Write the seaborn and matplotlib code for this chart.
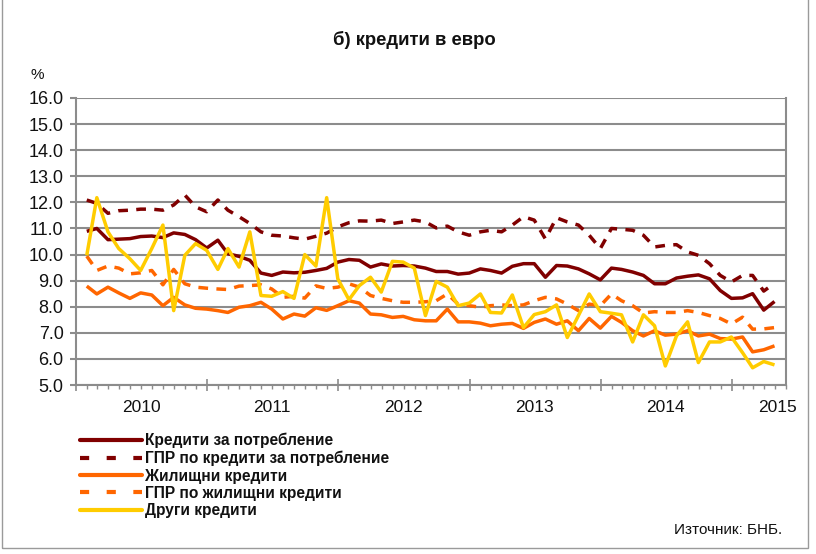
import pandas as pd
import matplotlib
matplotlib.use('Agg')
import matplotlib.pyplot as plt
import matplotlib.dates as mdates
from matplotlib.lines import Line2D
from matplotlib.ticker import FormatStrFormatter, NullFormatter
import seaborn as sns

# --- data (monthly, Jan 2010 - Apr 2015), % ---
months = pd.date_range('2010-01-31', periods=64, freq='ME')

cons = [10.89, 11.00, 10.57, 10.59, 10.61, 10.69, 10.71, 10.65, 10.83, 10.77, 10.57, 10.25,
        10.55, 10.03, 9.93, 9.78, 9.29, 9.20, 9.33, 9.30, 9.32, 9.39, 9.47, 9.71,
        9.81, 9.78, 9.52, 9.64, 9.56, 9.58, 9.56, 9.48, 9.35, 9.35, 9.25, 9.29,
        9.45, 9.39, 9.29, 9.55, 9.65, 9.65, 9.13, 9.58, 9.56, 9.45, 9.26, 9.03,
        9.48, 9.43, 9.33, 9.20, 8.88, 8.88, 9.10, 9.17, 9.22, 9.07, 8.62, 8.32,
        8.34, 8.50, 7.87, 8.20]

cons_apr = [12.09, 11.96, 11.58, 11.68, 11.70, 11.74, 11.74, 11.70, 11.90, 12.28, 11.83, 11.64,
            12.09, 11.70, 11.45, 11.19, 10.87, 10.74, 10.71, 10.64, 10.59, 10.70, 10.82, 11.06,
            11.22, 11.29, 11.28, 11.32, 11.19, 11.25, 11.32, 11.25, 11.02, 11.09, 10.87, 10.74,
            10.87, 10.93, 10.87, 11.13, 11.45, 11.32, 10.60, 11.41, 11.25, 11.13, 10.74, 10.23,
            11.00, 10.97, 10.93, 10.74, 10.29, 10.35, 10.38, 10.10, 9.97, 9.65, 9.20, 8.95,
            9.20, 9.20, 8.60, 8.90]

house = [8.79, 8.49, 8.75, 8.53, 8.32, 8.53, 8.45, 8.04, 8.36, 8.07, 7.94, 7.91,
         7.85, 7.78, 7.98, 8.04, 8.17, 7.91, 7.53, 7.72, 7.64, 7.96, 7.86, 8.04,
         8.23, 8.14, 7.72, 7.69, 7.59, 7.63, 7.50, 7.46, 7.46, 7.91, 7.42, 7.42,
         7.37, 7.27, 7.33, 7.36, 7.17, 7.40, 7.53, 7.33, 7.46, 7.08, 7.55, 7.18,
         7.63, 7.40, 7.08, 6.88, 7.08, 6.91, 6.95, 7.08, 6.88, 6.95, 6.78, 6.76,
         6.84, 6.27, 6.35, 6.50]

house_apr = [9.94, 9.39, 9.56, 9.48, 9.26, 9.30, 9.39, 8.84, 9.43, 8.88, 8.75, 8.71,
             8.68, 8.66, 8.79, 8.81, 8.84, 8.68, 8.36, 8.40, 8.33, 8.80, 8.70, 8.75,
             8.88, 8.75, 8.43, 8.32, 8.23, 8.17, 8.17, 8.19, 8.23, 8.49, 8.10, 8.04,
             7.98, 8.04, 8.07, 8.04, 8.07, 8.23, 8.36, 8.30, 8.10, 7.85, 8.10, 8.04,
             8.49, 8.23, 8.04, 7.76, 7.81, 7.78, 7.78, 7.85, 7.78, 7.66, 7.55, 7.34,
             7.60, 7.14, 7.15, 7.20]

other = [9.97, 12.18, 10.87, 10.23, 9.84, 9.39, 10.23, 11.13, 7.85, 9.97, 10.42, 10.16,
         9.43, 10.23, 9.52, 10.87, 8.43, 8.40, 8.58, 8.32, 10.00, 9.56, 12.18, 9.07,
         8.27, 8.81, 9.13, 8.56, 9.74, 9.71, 9.48, 7.66, 8.97, 8.75, 8.04, 8.14,
         8.49, 7.78, 7.76, 8.45, 7.20, 7.70, 7.81, 8.07, 6.82, 7.66, 8.49, 7.81,
         7.75, 7.69, 6.65, 7.69, 7.27, 5.73, 6.88, 7.42, 5.86, 6.65, 6.65, 6.84,
         6.24, 5.66, 5.90, 5.77]

labels = ['Кредити за потребление', 'ГПР по кредити за потребление',
          'Жилищни кредити', 'ГПР по жилищни кредити', 'Други кредити']
year_labels = ['2010', '2011', '2012', '2013', '2014', '2015']
year_label_pos = pd.to_datetime(['2010-07-01', '2011-07-01', '2012-07-01',
                                 '2013-07-01', '2014-07-01', '2015-05-07'])

sns.set_style('white')
plt.rcParams['font.family'] = ['Liberation Sans', 'DejaVu Sans']

fig = plt.figure(figsize=(8.16, 5.54), dpi=100)
ax = fig.add_axes([76/816, 1 - 385/554, 710/816, 287/554])

grid_c = '#8c8c8c'
styles = [
    (cons, '#800000', None),
    (cons_apr, '#800000', (2.8, 2.4)),
    (house, '#ff6600', None),
    (house_apr, '#ff6600', (2.8, 2.4)),
    (other, '#ffcc00', None),
]
for vals, color, dash in styles:
    sns.lineplot(x=months, y=vals, ax=ax, color=color, linewidth=2.5, zorder=3)
    line = ax.lines[-1]
    line.set_solid_capstyle('butt')
    if dash:
        line.set_dashes(dash)
        line.set_dash_capstyle('butt')

ax.set_ylim(5, 16)
ax.set_yticks(range(5, 17))
ax.yaxis.set_major_formatter(FormatStrFormatter('%.1f'))
ax.set_xlim(pd.Timestamp('2010-01-01'), pd.Timestamp('2015-06-01'))
ax.xaxis.set_major_locator(mdates.YearLocator())
ax.xaxis.set_minor_locator(mdates.MonthLocator())
ax.xaxis.set_major_formatter(NullFormatter())
ax.set_xlabel('')
ax.set_ylabel('')

ax.grid(axis='y', color=grid_c, linewidth=1.5)
ax.grid(axis='x', visible=False)
ax.spines['top'].set_visible(False)
for s in ['left', 'bottom', 'right']:
    ax.spines[s].set_color(grid_c)
    ax.spines[s].set_linewidth(1.5)

ax.tick_params(axis='y', direction='out', length=4, width=1.5, color=grid_c,
               labelsize=13, labelcolor='#111111', pad=5, left=True)
ax.tick_params(axis='x', which='major', direction='inout', length=9, width=1.2,
               color=grid_c, bottom=True)
ax.tick_params(axis='x', which='minor', direction='out', length=3, width=1,
               color=grid_c, bottom=True)

for lab, pos in zip(year_labels, year_label_pos):
    ax.text(pos, -0.08, lab, transform=ax.get_xaxis_transform(),
            ha='center', va='center', fontsize=12.5, color='#111111')

fig.text(414/816, 1 - 40/554, 'б) кредити в евро', ha='center', va='center',
         fontsize=13.3, fontweight='bold', color='#111111')
fig.text(37/816, 1 - 75/554, '%', ha='center', va='center', fontsize=11, color='#111111')
fig.text(782/816, 1 - 530/554, 'Източник: БНБ.', ha='right', va='center',
         fontsize=11, color='#111111')

handles = []
for vals, color, dash in styles:
    if dash:
        h = Line2D([], [], color=color, linewidth=3, dashes=(2.2, 4.2))
    else:
        h = Line2D([], [], color=color, linewidth=3)
    h.set_solid_capstyle('round')
    handles.append(h)

leg = fig.legend(handles, labels, loc='upper left', bbox_to_anchor=(80/816, 1 - 433/554),
                 frameon=False, handlelength=4.0, handletextpad=0.15, labelspacing=0.15,
                 borderpad=0, borderaxespad=0,
                 prop={'size': 11.2, 'weight': 'bold'})
for t in leg.get_texts():
    t.set_color('#111111')

fig.add_artist(plt.Rectangle((2/816, 6/554), 806/816, 560/554, transform=fig.transFigure,
                             fill=False, edgecolor='#9a9a9a', linewidth=1))

fig.savefig('out.png', dpi=100)
